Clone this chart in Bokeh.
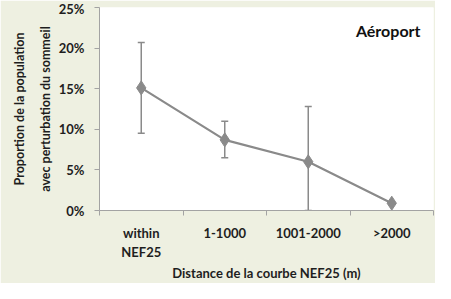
from bokeh.plotting import figure
from bokeh.models import (FixedTicker, NumeralTickFormatter, Whisker, ColumnDataSource,
                          Label, Range1d)
from bokeh.embed import file_html
from bokeh.resources import INLINE

categories = ["within\nNEF25", "1-1000", "1001-2000", ">2000"]
proportion = [0.151, 0.087, 0.060, 0.009]
err_low = [0.095, 0.065, 0.0, 0.009]
err_high = [0.207, 0.110, 0.128, 0.009]
y_ticks = [0, 0.05, 0.10, 0.15, 0.20, 0.25]

x_pos = [i + 0.5 for i in range(len(categories))]
bounds = [float(i) for i in range(len(categories) + 1)]

GRAY = "#8A8A8A"
AXIS = "#A3A3A3"
TXT = "#1E1E1E"
BG = "#EEF0E1"
FONT = "Lato"

src = ColumnDataSource(dict(x=x_pos, y=proportion, lower=err_low, upper=err_high))

p = figure(width=435, height=283, output_backend="svg", toolbar_location=None,
           x_range=Range1d(0, len(categories)), y_range=Range1d(0, 0.25),
           min_border_left=99, min_border_right=2, min_border_top=7, min_border_bottom=54)
p.border_fill_color = BG
p.background_fill_color = "white"
p.outline_line_color = None
p.xgrid.visible = False
p.ygrid.visible = False

w = Whisker(base="x", upper="upper", lower="lower", source=src,
            line_color=GRAY, line_width=1.5)
w.upper_head.size = 7
w.lower_head.size = 7
w.upper_head.line_color = GRAY
w.lower_head.line_color = GRAY
w.upper_head.line_width = 1.5
w.lower_head.line_width = 1.5
p.add_layout(w)

p.line("x", "y", source=src, line_color=GRAY, line_width=2.2)
p.scatter("x", "y", source=src, marker="diamond", size=14, fill_color=GRAY, line_color=GRAY)

# y axis
ya = p.yaxis[0]
ya.ticker = FixedTicker(ticks=y_ticks)
ya.formatter = NumeralTickFormatter(format="0%")
ya.axis_line_color = AXIS
ya.major_tick_line_color = AXIS
ya.major_tick_out = 5
ya.major_tick_in = 0
ya.minor_tick_line_color = None
ya.major_label_text_font = FONT
ya.major_label_text_font_style = "bold"
ya.major_label_text_font_size = "13px"
ya.major_label_text_color = TXT
ya.major_label_standoff = 10
ya.axis_label = "Proportion de la population\navec perturbation du sommeil"
ya.axis_label_text_font = FONT
ya.axis_label_text_font_style = "bold"
ya.axis_label_text_font_size = "12.5px"
ya.axis_label_text_color = TXT
ya.axis_label_text_line_height = 1.75
ya.axis_label_standoff = 3

# x axis
xa = p.xaxis[0]
xa.ticker = FixedTicker(ticks=x_pos, minor_ticks=bounds)
xa.major_label_overrides = {x: c for x, c in zip(x_pos, categories)}
xa.axis_line_color = AXIS
xa.major_tick_line_color = None
xa.minor_tick_line_color = AXIS
xa.minor_tick_out = 5
xa.minor_tick_in = 0
xa.major_label_text_font = FONT
xa.major_label_text_font_style = "bold"
xa.major_label_text_font_size = "13px"
xa.major_label_text_color = TXT
xa.major_label_standoff = 8
xa.axis_label = "Distance de la courbe NEF25 (m)"
xa.axis_label_text_font = FONT
xa.axis_label_text_font_style = "bold"
xa.axis_label_text_font_size = "13px"
xa.axis_label_text_color = TXT
xa.axis_label_standoff = 2

lab = Label(x=len(categories), y=0.222, x_offset=-13, text="Aéroport",
            text_font=FONT, text_font_style="bold", text_font_size="16px",
            text_color="#111111", text_align="right", text_baseline="middle")
p.add_layout(lab)

open("out.html", "w").write(file_html(p, INLINE))
